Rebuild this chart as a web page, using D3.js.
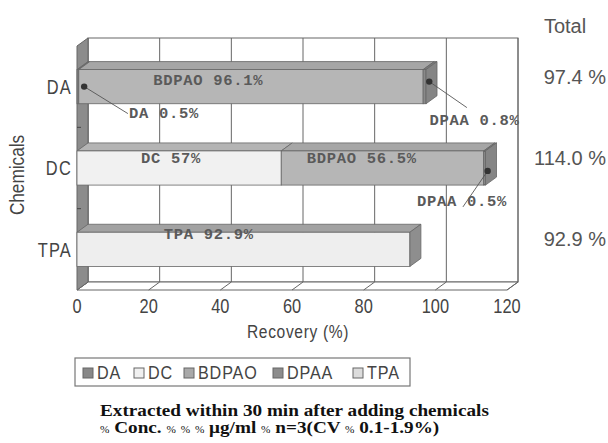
<!DOCTYPE html>
<html>
<head>
<meta charset="utf-8">
<script src="https://cdn.jsdelivr.net/npm/d3@7"></script>
<style>
  body { margin: 0; background: #fff; }
  .narrow { font-family: "Liberation Sans", Arial, sans-serif; }
</style>
</head>
<body>
<div id="drawing_region"></div>
<script>
// chemicals on the y axis, components stacked in each bar
const chemicals = ['DA', 'DC', 'TPA'];
const components = ['DA', 'DC', 'BDPAO', 'DPAA', 'TPA'];

// recovery (%) of each component, per chemical added
const daRecovery  = [0.5, 0, 96.1, 0.8, 0];
const dcRecovery  = [0, 57, 56.5, 0.5, 0];
const tpaRecovery = [0, 0, 0, 0, 92.9];

const xTicks = [0, 20, 40, 60, 80, 100, 120];

// bar colours
const frontColor = { DA: '#7e7e7e', DC: '#f1f1f1', BDPAO: '#b6b6b6', DPAA: '#8a8a8a', TPA: '#eeeeee' };
const topColor   = { DA: '#6e6e6e', DC: '#b4b4b4', BDPAO: '#a6a6a6', DPAA: '#7a7a7a', TPA: '#a2a2a2' };
const endColor   = { DA: '#6a6a6a', DC: '#a0a0a0', BDPAO: '#909090', DPAA: '#858585', TPA: '#8e8e8e' };

// where the value labels sit (x in recovery units, y from bar top)
const labelLayout = [
    { row: 'DA', key: 'BDPAO', text: 'BDPAO 96.1%', x: 36.6, y: 15, anchor: 'middle' },
    { row: 'DA', key: 'DA',    text: 'DA 0.5%',     x: 14.5, y: 48, anchor: 'start', dot: [2, 17], end: [14.2, 44] },
    { row: 'DA', key: 'DPAA',  text: 'DPAA 0.8%',   x: 98.4, y: 55, anchor: 'start', dot: [98.3, 12], end: [108.8, 38] },
    { row: 'DC', key: 'DC',    text: 'DC 57%',      x: 26.2, y: 12, anchor: 'middle' },
    { row: 'DC', key: 'BDPAO', text: 'BDPAO 56.5%', x: 79.5, y: 12, anchor: 'middle' },
    { row: 'DC', key: 'DPAA',  text: 'DPAA 0.5%',   x: 94.9, y: 55, anchor: 'start', dot: [114.6, 20], end: [107.7, 56] },
    { row: 'TPA', key: 'TPA',  text: 'TPA 92.9%',   x: 36.8, y: 7, anchor: 'middle' }
];

const table = chemicals.map((c, i) => {
    const vals = [daRecovery, dcRecovery, tpaRecovery][i];
    const row = { chemical: c };
    components.forEach((k, j) => row[k] = vals[j]);
    return row;
});

const W = 608, H = 443;
const front = { left: 77, right: 507, top: 46, bottom: 290 };
const depth = { dx: 11, dy: -8 };
const squeeze = 0.82;   // the original uses a narrow sans

const svg = d3.select('#drawing_region').append('svg')
    .attr('width', W).attr('height', H);

const xscale = d3.scaleLinear().domain([0, 120]).range([front.left, front.right]);
const yscale = d3.scaleBand().domain(chemicals)
    .range([front.top, front.bottom])
    .paddingInner(0.58).paddingOuter(0.29);

const stroke = '#666';
const x0 = xscale(0), x1 = xscale(120);

// back wall
svg.append('rect')
    .attr('x', x0 + depth.dx).attr('y', front.top + depth.dy)
    .attr('width', x1 - x0).attr('height', front.bottom - front.top)
    .attr('fill', '#fff').attr('stroke', stroke);

svg.append('g').selectAll('line').data(xTicks).join('line')
    .attr('x1', d => xscale(d) + depth.dx).attr('x2', d => xscale(d) + depth.dx)
    .attr('y1', front.top + depth.dy).attr('y2', front.bottom + depth.dy)
    .attr('stroke', stroke);

// floor
const poly = pts => pts.map(p => p.join(',')).join(' ');
svg.append('polygon')
    .attr('points', poly([[x0, front.bottom], [x1, front.bottom],
        [x1 + depth.dx, front.bottom + depth.dy], [x0 + depth.dx, front.bottom + depth.dy]]))
    .attr('fill', '#fff').attr('stroke', stroke);

svg.append('g').selectAll('line').data(xTicks).join('line')
    .attr('x1', d => xscale(d)).attr('x2', d => xscale(d) + depth.dx)
    .attr('y1', front.bottom).attr('y2', front.bottom + depth.dy)
    .attr('stroke', stroke);

// left wall
svg.append('polygon')
    .attr('points', poly([[x0, front.top], [x0 + depth.dx, front.top + depth.dy],
        [x0 + depth.dx, front.bottom + depth.dy], [x0, front.bottom]]))
    .attr('fill', '#8c8c8c').attr('stroke', stroke);

const step = yscale.step();
svg.append('g').selectAll('line').data(chemicals.slice(1)).join('line')
    .attr('x1', x0).attr('x2', x0 + 4)
    .attr('y1', d => yscale(d) - step * 0.29).attr('y2', d => yscale(d) - step * 0.29)
    .attr('stroke', '#444');

// stacked 3D bars
const stack = d3.stack().keys(components);
const layers = stack(table);
const bw = yscale.bandwidth();

chemicals.forEach((c, i) => {
    const g = svg.append('g');
    const segs = layers.map(l => ({ key: l.key, s: l[i][0], e: l[i][1] }))
        .filter(d => d.e > d.s);
    const y = yscale(c);
    segs.forEach(d => {
        const xa = xscale(d.s), xb = xscale(d.e);
        g.append('polygon')
            .attr('points', poly([[xa, y], [xb, y], [xb + depth.dx, y + depth.dy], [xa + depth.dx, y + depth.dy]]))
            .attr('fill', topColor[d.key]).attr('stroke', stroke).attr('stroke-width', 0.8);
        g.append('rect')
            .attr('x', xa).attr('y', y).attr('width', xb - xa).attr('height', bw)
            .attr('fill', frontColor[d.key]).attr('stroke', stroke).attr('stroke-width', 0.8);
    });
    const last = segs[segs.length - 1];
    const xe = xscale(last.e);
    g.append('polygon')
        .attr('points', poly([[xe, y], [xe + depth.dx, y + depth.dy], [xe + depth.dx, y + bw + depth.dy], [xe, y + bw]]))
        .attr('fill', endColor[last.key]).attr('stroke', stroke).attr('stroke-width', 0.8);
});

// value labels with leaders
const notes = svg.append('g');
labelLayout.forEach(d => {
    const top = yscale(d.row);
    if (d.dot) {
        notes.append('line')
            .attr('x1', xscale(d.dot[0])).attr('y1', top + d.dot[1])
            .attr('x2', xscale(d.end[0])).attr('y2', top + d.end[1])
            .attr('stroke', '#555').attr('stroke-width', 0.9);
        notes.append('circle')
            .attr('cx', xscale(d.dot[0])).attr('cy', top + d.dot[1]).attr('r', 3.2)
            .attr('fill', '#333');
    }
    notes.append('text')
        .attr('x', xscale(d.x)).attr('y', top + d.y)
        .attr('text-anchor', d.anchor)
        .attr('font-family', '"Liberation Mono", "Courier New", monospace')
        .attr('font-weight', 'bold').attr('font-size', 15.5)
        .attr('letter-spacing', 0.7)
        .attr('fill', '#5a5a5a')
        .text(d.text);
});

// axes text (narrow look by horizontal squeeze)
svg.append('g').selectAll('text').data(xTicks).join('text')
    .attr('class', 'narrow')
    .attr('transform', d => `translate(${xscale(d)},${front.bottom + 23}) scale(${squeeze},1)`)
    .attr('text-anchor', 'middle').attr('font-size', 20).attr('fill', '#444')
    .text(d => d);

svg.append('g').selectAll('text').data(chemicals).join('text')
    .attr('class', 'narrow')
    .attr('transform', d => `translate(${x0 - 5},${yscale(d) + bw / 2}) scale(${squeeze},1)`)
    .attr('dy', '0.36em')
    .attr('text-anchor', 'end').attr('font-size', 20).attr('fill', '#444')
    .attr('letter-spacing', 1.5)
    .text(d => d);

svg.append('text').attr('class', 'narrow')
    .attr('transform', `translate(${(x0 + x1) / 2 + 6},338) scale(${squeeze},1)`)
    .attr('text-anchor', 'middle').attr('font-size', 19).attr('fill', '#444')
    .attr('letter-spacing', 0.8)
    .text('Recovery (%)');

svg.append('text').attr('class', 'narrow')
    .attr('transform', `translate(24,175) rotate(-90) scale(0.86,1)`)
    .attr('text-anchor', 'middle').attr('font-size', 20).attr('fill', '#444')
    .text('Chemicals');

// totals on the right
svg.append('text')
    .attr('x', 565).attr('y', 33).attr('text-anchor', 'middle')
    .attr('font-family', '"Liberation Sans", Arial, sans-serif')
    .attr('font-size', 20).attr('fill', '#555')
    .text('Total');

svg.append('g').selectAll('text').data(table).join('text')
    .attr('x', 606).attr('y', d => yscale(d.chemical) + bw / 2 - 3)
    .attr('text-anchor', 'end')
    .attr('font-family', '"Liberation Sans", Arial, sans-serif')
    .attr('font-size', 20).attr('fill', '#555')
    .text(d => d3.sum(components, k => d[k]).toFixed(1) + ' %');

// legend
const legend = svg.append('g');
legend.append('rect')
    .attr('x', 75).attr('y', 358).attr('width', 335).attr('height', 28)
    .attr('fill', '#fff').attr('stroke', '#777').attr('stroke-width', 1.2);

const legendX = [83, 134, 184, 273, 353];
const legendColor = { DA: '#888', DC: '#f0f0f0', BDPAO: '#a9a9a9', DPAA: '#8c8c8c', TPA: '#dcdcdc' };
components.forEach((k, i) => {
    legend.append('rect')
        .attr('x', legendX[i]).attr('y', 368).attr('width', 10).attr('height', 10)
        .attr('fill', legendColor[k]).attr('stroke', '#666');
    legend.append('text').attr('class', 'narrow')
        .attr('transform', `translate(${legendX[i] + 14},379) scale(0.85,1)`)
        .attr('font-size', 19).attr('fill', '#444').attr('letter-spacing', 1)
        .text(k);
});

// footnote
const foot = svg.append('g')
    .attr('font-family', '"Liberation Serif", "Times New Roman", serif')
    .attr('font-weight', 'bold').attr('fill', '#111');
foot.append('text')
    .attr('transform', 'translate(100,416) scale(1.13,1)')
    .attr('font-size', 17)
    .text('Extracted within 30 min after adding chemicals');

const line2 = foot.append('text')
    .attr('transform', 'translate(100,433) scale(1.13,1)')
    .attr('font-size', 17);
const parts = [['%', 1], [' Conc. ', 0], ['%', 1], [' ', 0], ['%', 1], [' ', 0], ['%', 1], ['  \u03bcg/ml ', 0],
    ['%', 1], [' n=3(CV ', 0], ['%', 1], [' 0.1-1.9%)', 0]];
parts.forEach(p => {
    line2.append('tspan')
        .attr('font-size', p[1] ? 10 : 17)
        .attr('font-weight', p[1] ? 'normal' : 'bold')
        .text(p[0]);
});
</script>
</body>
</html>
